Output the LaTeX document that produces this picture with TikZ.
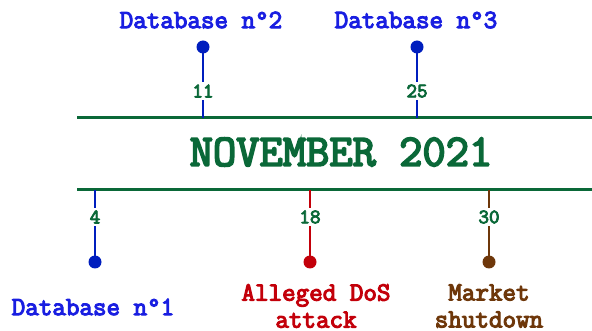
\documentclass[tikz,border=0pt]{standalone}
\usepackage{fontspec}
\newfontfamily\courbold[FakeBold=4]{Latin Modern Mono}
\definecolor{tlgreen}{RGB}{10,104,56}
\definecolor{evblue}{RGB}{0,30,190}
\definecolor{txblue}{RGB}{25,30,225}
\definecolor{evred}{RGB}{195,0,10}
\definecolor{evbrown}{RGB}{110,55,10}
\tikzset{
  bar/.style={draw=tlgreen, line width=3pt},
  stem/.style={line width=1.4pt},
  dot/.style={circle, inner sep=0pt, minimum size=13pt},
  datelbl/.style={fill=white, text=tlgreen, inner sep=1pt, minimum height=18pt, font=\courbold\fontsize{20.5}{20.5}\selectfont},
  evtext/.style={align=center, inner sep=0pt, font=\courbold\fontsize{26.3}{27}\selectfont},
  title/.style={text=tlgreen, inner sep=0pt, font=\courbold\fontsize{45.2}{45.2}\selectfont}
}
\begin{document}
\begin{tikzpicture}[x=1pt,y=-1pt]
\useasboundingbox (0,0) rectangle (592,331);
% timeline bars
\coordinate (tl) at (77,118);
\coordinate (tr) at (592,118);
\coordinate (bl) at (77,190);
\coordinate (br) at (592,190);
\draw[bar] (tl) -- (tr);
\draw[bar] (bl) -- (br);
\node[title] (ttl) at (341,152) {NOVEMBER 2021};
% top events
\coordinate (a11) at (203,118);
\node[dot, fill=evblue] (d11) at (203,47) {};
\draw[stem, evblue] (d11.center) -- (a11);
\node[datelbl] (l11) at (203,91) {11};
\node[evtext, text=txblue] (t11) at (201,20) {Database n°2};

\coordinate (a25) at (417,118);
\node[dot, fill=evblue] (d25) at (417,47) {};
\draw[stem, evblue] (d25.center) -- (a25);
\node[datelbl] (l25) at (417,91) {25};
\node[evtext, text=txblue] (t25) at (416,20) {Database n°3};

% bottom events
\coordinate (a4) at (95,190);
\node[dot, fill=evblue] (d4) at (95,262) {};
\draw[stem, evblue] (a4) -- (d4.center);
\node[datelbl] (l4) at (95,217) {4};
\node[evtext, text=txblue] (t4) at (93,307) {Database n°1};

\coordinate (a18) at (310,190);
\node[dot, fill=evred] (d18) at (310,262) {};
\draw[stem, evred] (a18) -- (d18.center);
\node[datelbl] (l18) at (310,217) {18};
\node[evtext, text=evred] (t18) at (316,306) {Alleged DoS\\attack};

\coordinate (a30) at (489,190);
\node[dot, fill=evbrown] (d30) at (489,262) {};
\draw[stem, evbrown] (a30) -- (d30.center);
\node[datelbl] (l30) at (489,217) {30};
\node[evtext, text=evbrown] (t30) at (489,306) {Market\\shutdown};
\end{tikzpicture}
\end{document}
